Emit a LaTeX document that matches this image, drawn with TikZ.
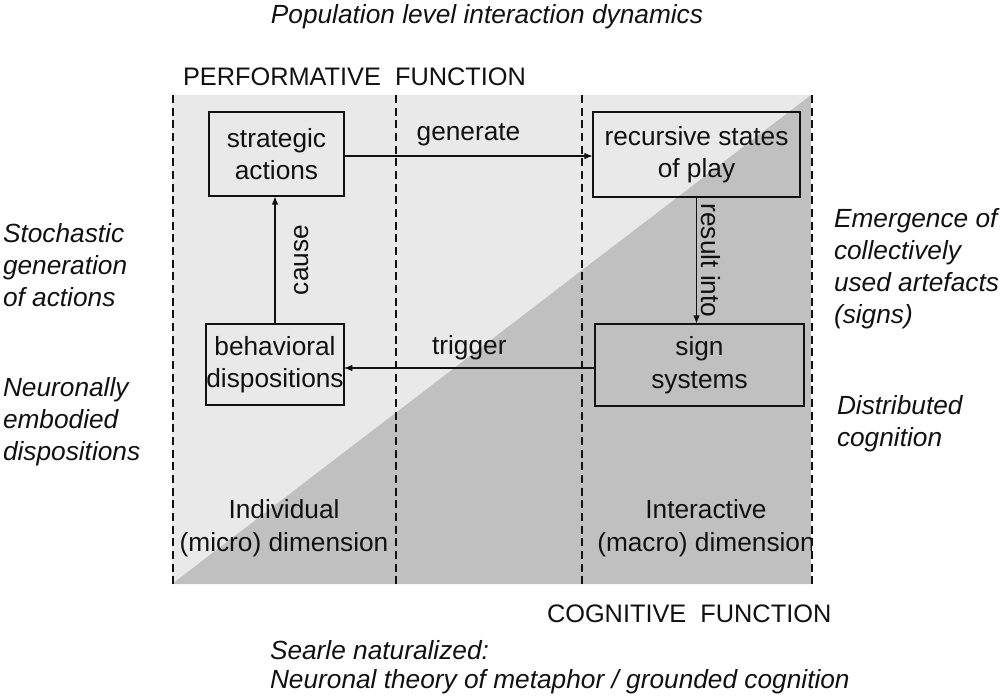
\documentclass[tikz,border=0pt]{standalone}
\usepackage{fontspec}
\setmainfont{Liberation Sans}
\usetikzlibrary{arrows.meta}

\definecolor{paneLight}{HTML}{E9E9E9}
\definecolor{paneDark}{HTML}{C0C0C0}
\definecolor{ink}{HTML}{111111}

\begin{document}
\begin{tikzpicture}[x=0.75pt, y=-0.75pt,
  every node/.style={font=\fontsize{19.7}{24.4}\selectfont, text=ink, inner sep=0pt, outer sep=0pt},
  caps/.style={font=\fontsize{19}{24}\selectfont},
  side/.style={font=\fontsize{19.7}{24}\itshape, align=left},
  box/.style={draw=ink, line width=1.65pt, align=center},
  link/.style={draw=ink, line width=1.25pt, -{Latex[length=6.5pt,width=5pt]}},
  divider/.style={draw=ink, line width=1.4pt, dash pattern=on 6pt off 3.5pt}]

\useasboundingbox (0,0) rectangle (1001,697);

% split panel: individual side above the diagonal, interactive side below
\fill[paneLight] (172,95) rectangle (811,584);
\fill[paneDark] (172,584) -- (811,95) -- (811,584) -- cycle;

% dimension captions, kept inside the panel
\begin{scope}
  \clip (172,95) rectangle (811,584);
  \node[align=center] (indiv) at (284,528) {Individual\\(micro) dimension};
  \node[align=center] (inter) at (706,528) {Interactive\\(macro) dimension};
\end{scope}

% column dividers
\coordinate (d1t) at (173,95);  \coordinate (d1b) at (173,584);
\coordinate (d2t) at (396,95);  \coordinate (d2b) at (396,584);
\coordinate (d3t) at (582,95);  \coordinate (d3b) at (582,584);
\coordinate (d4t) at (812,95);  \coordinate (d4b) at (812,584);
\foreach \i in {1,2,3,4} \draw[divider] (d\i t) -- (d\i b);

% process boxes
\node[box, minimum width=101.25pt, minimum height=63pt] (strat) at (276.5,154) {strategic\\actions};
\node[box, minimum width=100.5pt, minimum height=60.75pt] (behav) at (275,364.5) {behavioral\\dispositions};
\node[box, minimum width=155.25pt, minimum height=63.75pt] (recur) at (696.5,154.5) {recursive states\\of play};
\node[box, minimum width=156.75pt, minimum height=61.5pt] (sign) at (699.5,365) {sign\\systems};

% cycle of links
\draw[link] ([yshift=-1.5pt]strat.east) -- ([yshift=-1.5pt]strat.east -| recur.west)
  node[midway, above=16pt, anchor=center] (lgen) {generate};
\draw[link] (recur.south) -- (recur.south |- sign.north)
  node[midway, right=11pt, anchor=center, rotate=-90] (lres) {result into};
\draw[link] ([yshift=-2.25pt]sign.west) -- ([yshift=-2.25pt]sign.west -| behav.east)
  node[midway, above=15.5pt, anchor=center] (ltrig) {trigger};
\draw[link] (behav.north) -- (behav.north |- strat.south)
  node[midway, right=20pt, anchor=center, rotate=90] (lcause) {cause};

% function headings
\node[caps, anchor=base west] (perf) at (183,85) {PERFORMATIVE\ \ FUNCTION};
\node[caps, anchor=base west] (cogn) at (547,622) {COGNITIVE\ \ FUNCTION};

% level annotations
\node[font=\fontsize{19.7}{24}\itshape, anchor=base] (pop) at (487,23) {Population level interaction dynamics};
\node[side, anchor=base west] (searle) at (270,659) {Searle naturalized:};
\node[side, anchor=base west] (metaph) at (270,688) {Neuronal theory of metaphor / grounded cognition};

\node[side, anchor=base west] (stoch1) at (3,242) {Stochastic};
\node[side, anchor=base west] (stoch2) at (3,274) {generation};
\node[side, anchor=base west] (stoch3) at (3,306) {of actions};
\node[side, anchor=base west] (neur1) at (3,396) {Neuronally};
\node[side, anchor=base west] (neur2) at (3,428) {embodied};
\node[side, anchor=base west] (neur3) at (3,460) {dispositions};

\node[side, anchor=base west] (emer1) at (834,227) {Emergence of};
\node[side, anchor=base west] (emer2) at (834,259) {collectively};
\node[side, anchor=base west] (emer3) at (834,291) {used artefacts};
\node[side, anchor=base west] (emer4) at (834,323) {(signs)};
\node[side, anchor=base west] (dist1) at (837,414) {Distributed};
\node[side, anchor=base west] (dist2) at (837,446) {cognition};
\end{tikzpicture}
\end{document}
